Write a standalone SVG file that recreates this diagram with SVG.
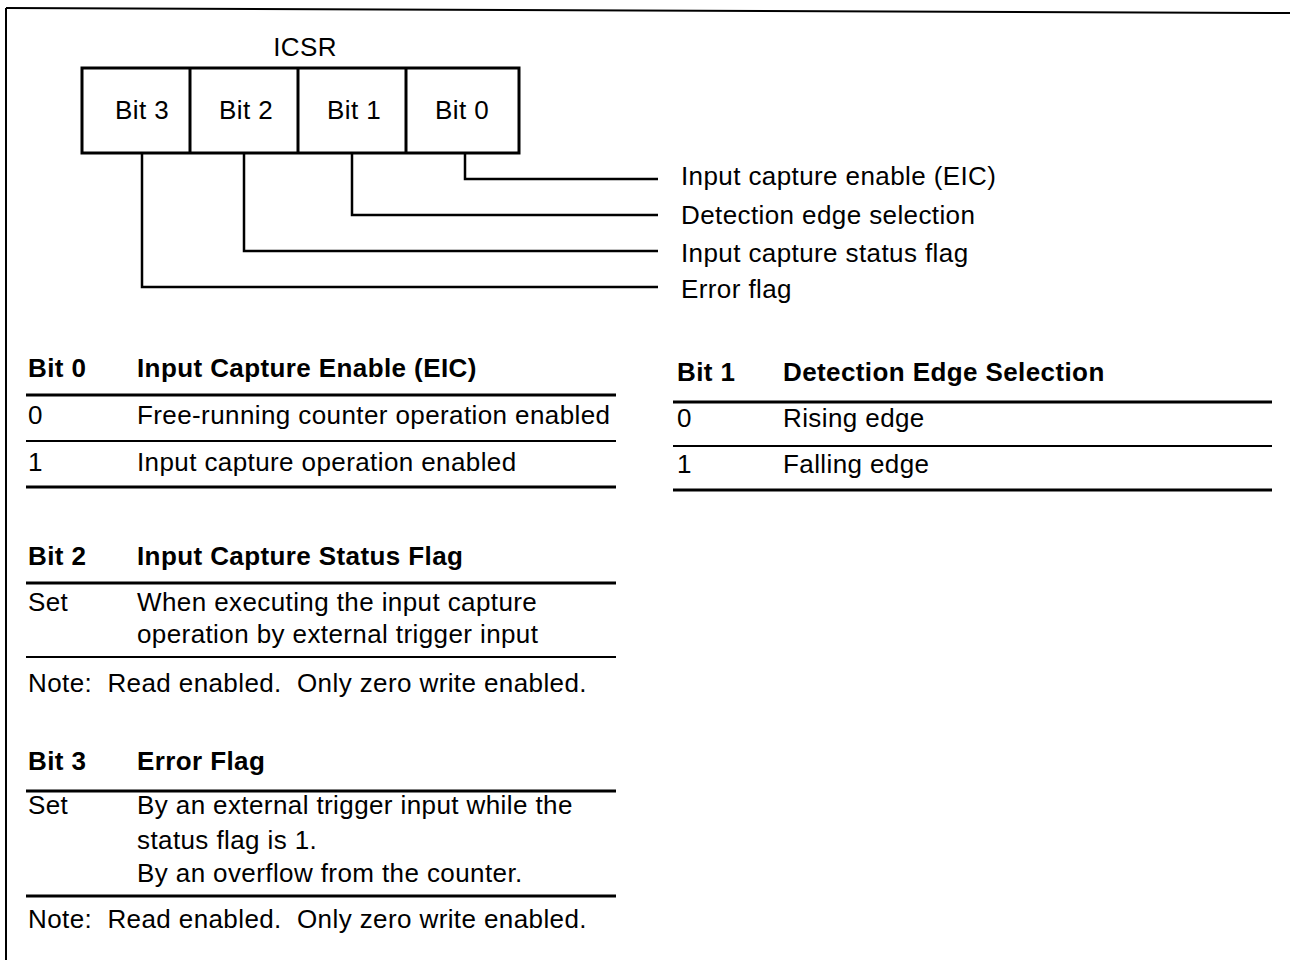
<svg xmlns="http://www.w3.org/2000/svg" width="1290" height="960" viewBox="0 0 1290 960">
<style>
text { font-family: "Liberation Sans", Arial, sans-serif; font-size: 26px; letter-spacing: 0.4px; fill: #000; white-space: pre; }
.b { font-weight: bold; }
.m { text-anchor: middle; }
.frame { stroke: #000; stroke-width: 2; fill: none; }
.reg { stroke: #000; stroke-width: 3; fill: #fff; }
.conn { stroke: #000; stroke-width: 2.5; fill: none; }
.rule { stroke: #000; stroke-width: 2; }
.rule-h { stroke: #000; stroke-width: 3; }
</style>
<rect width="1290" height="960" fill="#fff"/>
<g id="frame">
<line class="frame" x1="6" y1="8" x2="1290" y2="13"/>
<line class="frame" x1="6" y1="8" x2="6" y2="960"/>
</g>
<g id="register">
<text class="m" x="305" y="56">ICSR</text>
<rect class="reg" x="82" y="68" width="437" height="85"/>
<line class="reg" x1="190" y1="68" x2="190" y2="153"/>
<line class="reg" x1="298" y1="68" x2="298" y2="153"/>
<line class="reg" x1="406" y1="68" x2="406" y2="153"/>
</g>
<g id="bit3"><text class="m" x="142" y="119">Bit 3</text></g>
<g id="bit2"><text class="m" x="246" y="119">Bit 2</text></g>
<g id="bit1"><text class="m" x="354" y="119">Bit 1</text></g>
<g id="bit0"><text class="m" x="462" y="119">Bit 0</text></g>
<g id="connectors">
<polyline class="conn" points="465,153 465,179 658,179"/>
<polyline class="conn" points="352,153 352,215 658,215"/>
<polyline class="conn" points="244,153 244,251 658,251"/>
<polyline class="conn" points="142,153 142,287 658,287"/>
</g>
<g id="label-eic"><text x="681" y="185">Input capture enable (EIC)</text></g>
<g id="label-edge"><text x="681" y="224">Detection edge selection</text></g>
<g id="label-status"><text x="681" y="262">Input capture status flag</text></g>
<g id="label-error"><text x="681" y="298">Error flag</text></g>
<g id="table-bit0">
<text class="b" x="28" y="377">Bit 0</text>
<text class="b" x="137" y="377">Input Capture Enable (EIC)</text>
<line class="rule-h" x1="26" y1="395" x2="616" y2="395"/>
<text x="28" y="424">0</text>
<text x="137" y="424">Free-running counter operation enabled</text>
<line class="rule" x1="26" y1="441" x2="616" y2="441"/>
<text x="28" y="471">1</text>
<text x="137" y="471">Input capture operation enabled</text>
<line class="rule-h" x1="26" y1="487" x2="616" y2="487"/>
</g>
<g id="table-bit1">
<text class="b" x="677" y="381">Bit 1</text>
<text class="b" x="783" y="381">Detection Edge Selection</text>
<line class="rule-h" x1="673" y1="402" x2="1272" y2="402"/>
<text x="677" y="427">0</text>
<text x="783" y="427">Rising edge</text>
<line class="rule" x1="673" y1="446" x2="1272" y2="446"/>
<text x="677" y="473">1</text>
<text x="783" y="473">Falling edge</text>
<line class="rule-h" x1="673" y1="490" x2="1272" y2="490"/>
</g>
<g id="table-bit2">
<text class="b" x="28" y="565">Bit 2</text>
<text class="b" x="137" y="565">Input Capture Status Flag</text>
<line class="rule-h" x1="26" y1="583" x2="616" y2="583"/>
<text x="28" y="611">Set</text>
<text x="137" y="611">When executing the input capture</text>
<text x="137" y="643">operation by external trigger input</text>
<line class="rule" x1="26" y1="657" x2="616" y2="657"/>
<text x="28" y="692">Note:  Read enabled.  Only zero write enabled.</text>
</g>
<g id="table-bit3">
<text class="b" x="28" y="770">Bit 3</text>
<text class="b" x="137" y="770">Error Flag</text>
<line class="rule-h" x1="26" y1="791" x2="616" y2="791"/>
<text x="28" y="814">Set</text>
<text x="137" y="814">By an external trigger input while the</text>
<text x="137" y="849">status flag is 1.</text>
<text x="137" y="882">By an overflow from the counter.</text>
<line class="rule-h" x1="26" y1="896" x2="616" y2="896"/>
<text x="28" y="928">Note:  Read enabled.  Only zero write enabled.</text>
</g>
</svg>
